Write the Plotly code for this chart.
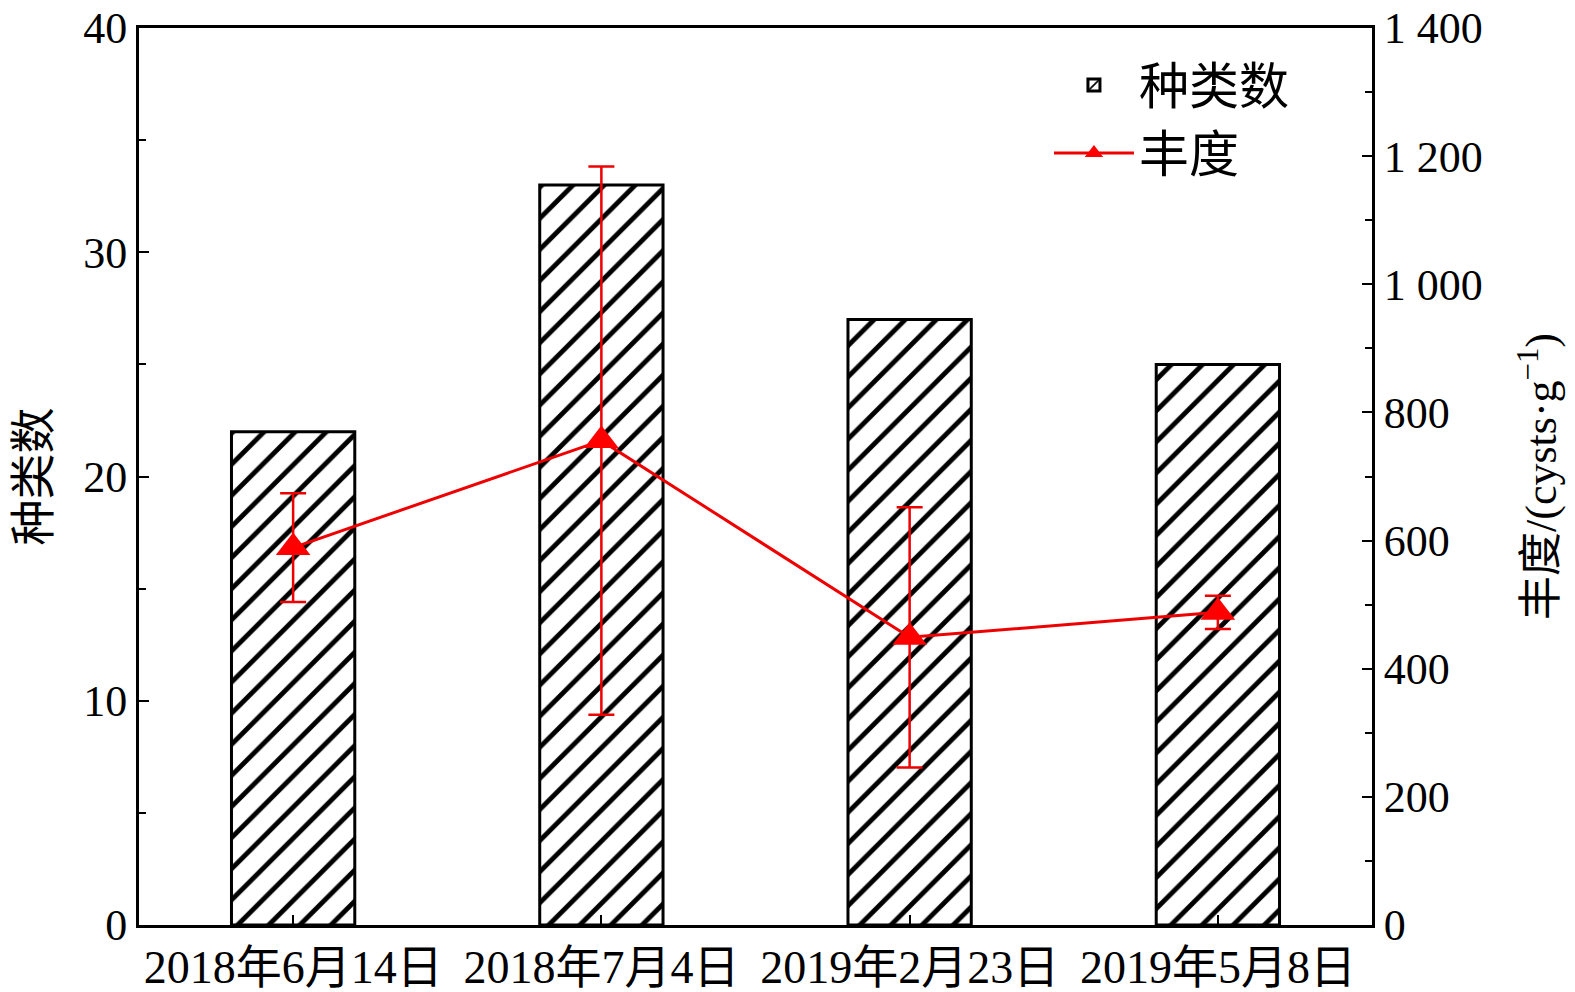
import plotly.graph_objects as go

dates = ["2018年6月14日", "2018年7月4日", "2019年2月23日", "2019年5月8日"]
species = [22, 33, 27, 25]
abundance = [589, 756, 449, 488]
abundance_err = [85, 428, 203, 26]

left_ticks = [0, 10, 20, 30, 40]
right_tickvals = [0, 200, 400, 600, 800, 1000, 1200, 1400]
right_ticktext = ["0", "200", "400", "600", "800", "1 000", "1 200", "1 400"]

FONT = "Liberation Serif, Times New Roman, Noto Sans CJK SC, serif"

fig = go.Figure()
fig.add_trace(go.Bar(
    x=list(range(len(dates))), y=species, name="种类数", width=0.4,
    marker=dict(color="white", line=dict(color="black", width=3),
                pattern=dict(shape="/", fgcolor="black", bgcolor="white", fgopacity=1,
                             size=22, solidity=0.22, fillmode="overlay")),
    yaxis="y",
))
fig.add_trace(go.Scatter(
    x=list(range(len(dates))), y=abundance, name="丰度", mode="lines+markers",
    line=dict(color="#ee0000", width=3),
    marker=dict(symbol="triangle-up", size=30, color="#ff0000"),
    error_y=dict(type="data", array=abundance_err, visible=True,
                 color="#ee0000", thickness=2.5, width=13),
    yaxis="y2",
))

fig.update_layout(
    width=1567, height=984,
    margin=dict(l=131, r=203, t=20, b=67, autoexpand=False),
    paper_bgcolor="white", plot_bgcolor="white",
    font=dict(family=FONT, size=46, color="black"),
    showlegend=True,
    legend=dict(x=0.738, y=0.98, xanchor="left", yanchor="top",
                bgcolor="rgba(0,0,0,0)", font=dict(size=50),
                itemwidth=80),
    xaxis=dict(
        range=[-0.5, 3.5], tickmode="array", tickvals=list(range(len(dates))),
        ticktext=dates, ticks="inside", ticklen=10, tickwidth=2, tickcolor="black",
        showline=True, linecolor="black", linewidth=3, mirror=True,
        showgrid=False, zeroline=False, automargin=False, ticklabeloverflow="allow",
        tickfont=dict(size=46),
    ),
    yaxis=dict(
        range=[0, 40], tickvals=left_ticks, ticks="inside", ticklen=10,
        tickwidth=2, tickcolor="black", tickfont=dict(size=44),
        minor=dict(ticks="inside", ticklen=7, dtick=5, tickwidth=2, tickcolor="black"),
        showline=True, linecolor="black", linewidth=3,
        showgrid=False, zeroline=False, automargin=False, ticklabeloverflow="allow",
        title=dict(text="种类数", font=dict(size=46), standoff=24),
    ),
    yaxis2=dict(
        range=[0, 1400], overlaying="y", side="right", anchor="x",
        tickmode="array", tickvals=right_tickvals, ticktext=right_ticktext,
        ticks="inside", ticklen=10, tickwidth=2, tickcolor="black", tickfont=dict(size=44),
        minor=dict(ticks="inside", ticklen=7, dtick=100, tickwidth=2, tickcolor="black"),
        showline=True, linecolor="black", linewidth=3,
        showgrid=False, zeroline=False, automargin=False, ticklabeloverflow="allow",
        title=dict(text="丰度/(cysts·g<sup>−1</sup>)", font=dict(size=44), standoff=44),
    ),
)

fig.write_html("out.html")
